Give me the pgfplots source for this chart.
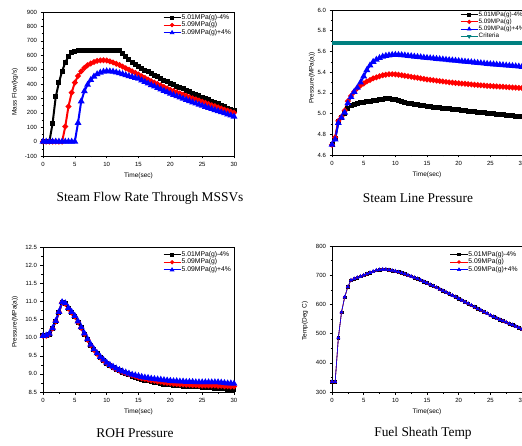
\documentclass[border=0pt]{standalone}
\usepackage{fontspec}
\setmainfont{Liberation Sans}
\newfontfamily\capfont{Liberation Serif}
\usepackage{pgfplots}
\pgfplotsset{compat=1.18}
\usepackage{pgfplotstable}

\definecolor{crit}{RGB}{0,128,128}

% mass flow (kg/s): t, -4%, nominal, +4%
\pgfplotstableread{
t blk red blu
0 0 0 0
0.5 0 0 0
1 0 0 0
1.5 125 0 0
2 310 0 0
2.5 410 0 0
3 488 0 0
3.5 550 105 0
4 590 244 0
4.5 616 340 0
5 628 410 0
5.5 632 455 130
6 634 488 280
6.5 635 512 350
7 635 530 395
7.5 635 543 428
8 635 553 452
8.5 635 560 468
9 635 564 479
9.5 635 565 486
10 635 563 489
10.5 635 557 488
11 635 550 486
11.5 635 541 481
12 633 532 475
12.5 612 521 469
13 590 510 462
13.5 569 499 455
14 551 488 449
14.5 535 477 443
15 521 466 437
15.5 508 454 426
16 496 442 415
16.5 484 431 404
17 472 420 393
17.5 460 410 383
18 449 400 373
18.5 438 390 363
19 427 380 353
19.5 416 370 343
20 406 360 333
20.5 396 352 324
21 386 343 315
21.5 376 335 307
22 366 326 298
22.5 356 318 290
23 347 309 281
23.5 337 301 273
24 328 293 265
24.5 318 285 257
25 309 277 249
25.5 300 269 242
26 290 261 234
26.5 281 253 227
27 271 246 219
27.5 262 238 212
28 252 230 204
28.5 242 222 197
29 232 215 189
29.5 223 207 182
30 213 200 174
}\flowtab

% steam line pressure (MPa(a))
\pgfplotstableread{
t blk red blu
0 4.70 4.70 4.70
0.5 4.76 4.77 4.75
1 4.92 4.93 4.91
1.5 4.96 4.97 4.96
2 5.00 5.03 5.01
2.5 5.05 5.12 5.10
3 5.075 5.17 5.16
3.5 5.09 5.21 5.21
4 5.10 5.245 5.25
4.5 5.105 5.27 5.30
5 5.11 5.29 5.36
5.5 5.115 5.31 5.42
6 5.12 5.325 5.465
6.5 5.125 5.34 5.50
7 5.13 5.35 5.52
7.5 5.135 5.36 5.537
8 5.14 5.37 5.55
8.5 5.142 5.375 5.558
9 5.143 5.38 5.563
9.5 5.14 5.38 5.567
10 5.135 5.378 5.568
10.5 5.128 5.375 5.567
11 5.12 5.37 5.565
11.5 5.11 5.365 5.562
12 5.10 5.36 5.558
12.5 5.095 5.355 5.555
13 5.09 5.35 5.551
13.5 5.085 5.345 5.548
14 5.08 5.34 5.545
14.5 5.075 5.335 5.541
15 5.07 5.33 5.538
15.5 5.066 5.326 5.535
16 5.062 5.322 5.532
16.5 5.058 5.318 5.529
17 5.055 5.314 5.526
17.5 5.051 5.310 5.523
18 5.048 5.306 5.520
18.5 5.045 5.302 5.517
19 5.041 5.299 5.514
19.5 5.038 5.296 5.511
20 5.035 5.293 5.508
20.5 5.031 5.290 5.505
21 5.028 5.287 5.502
21.5 5.024 5.284 5.499
22 5.021 5.281 5.496
22.5 5.018 5.278 5.493
23 5.014 5.276 5.490
23.5 5.011 5.273 5.487
24 5.007 5.271 5.484
24.5 5.004 5.268 5.481
25 5.000 5.266 5.478
25.5 4.997 5.264 5.476
26 4.994 5.262 5.473
26.5 4.991 5.260 5.470
27 4.988 5.258 5.468
27.5 4.985 5.256 5.465
28 4.982 5.254 5.462
28.5 4.979 5.252 5.460
29 4.976 5.250 5.457
29.5 4.973 5.248 5.455
30 4.970 5.246 5.452
}\slptab

% ROH pressure (MPa(a))
\pgfplotstableread{
t blk red blu
0 10.05 10.05 10.05
0.5 10.05 10.05 10.06
1 10.10 10.10 10.11
1.5 10.25 10.25 10.26
2 10.45 10.45 10.46
2.5 10.70 10.70 10.71
3 10.97 10.97 10.98
3.5 10.93 10.93 10.95
4 10.80 10.80 10.82
4.5 10.69 10.69 10.71
5 10.58 10.58 10.60
5.5 10.43 10.43 10.45
6 10.27 10.27 10.29
6.5 10.10 10.10 10.12
7 9.94 9.94 9.96
7.5 9.79 9.79 9.81
8 9.66 9.66 9.68
8.5 9.55 9.55 9.57
9 9.45 9.45 9.47
9.5 9.37 9.37 9.39
10 9.29 9.30 9.31
10.5 9.23 9.24 9.25
11 9.17 9.18 9.20
11.5 9.12 9.13 9.15
12 9.08 9.09 9.11
12.5 9.04 9.05 9.07
13 9.00 9.02 9.04
13.5 8.97 8.99 9.01
14 8.94 8.96 8.98
14.5 8.91 8.93 8.96
15 8.88 8.90 8.94
15.5 8.85 8.88 8.92
16 8.83 8.86 8.90
16.5 8.81 8.84 8.89
17 8.79 8.82 8.87
17.5 8.77 8.81 8.86
18 8.75 8.79 8.85
18.5 8.74 8.78 8.84
19 8.72 8.76 8.83
19.5 8.71 8.75 8.82
20 8.70 8.74 8.81
20.5 8.69 8.73 8.80
21 8.68 8.72 8.80
21.5 8.67 8.71 8.79
22 8.66 8.71 8.79
22.5 8.66 8.70 8.78
23 8.65 8.70 8.78
23.5 8.65 8.69 8.78
24 8.64 8.69 8.77
24.5 8.64 8.68 8.77
25 8.63 8.68 8.77
25.5 8.63 8.68 8.77
26 8.62 8.68 8.77
26.5 8.62 8.68 8.77
27 8.61 8.68 8.77
27.5 8.60 8.67 8.77
28 8.60 8.67 8.76
28.5 8.59 8.66 8.75
29 8.58 8.66 8.74
29.5 8.58 8.65 8.74
30 8.57 8.65 8.73
}\rohtab

% fuel sheath temperature (deg C), the three cases coincide
\pgfplotstableread{
t blk red blu
0 335 335 335
0.5 335 335 335
1 485 485 485
1.5 573 573 573
2 625 625 625
2.5 660 660 660
3 683 683 683
3.5 688 688 688
4 692 692 692
4.5 696 696 696
5 700 700 700
5.5 704 704 704
6 709 709 709
6.5 713 713 713
7 717 717 717
7.5 719 719 719
8 720 720 720
8.5 720 720 720
9 718 718 718
9.5 716 716 716
10 714 714 714
10.5 711 711 711
11 708 708 708
11.5 704 704 704
12 700 700 700
12.5 696 696 696
13 692 692 692
13.5 688 688 688
14 683 683 683
14.5 678 678 678
15 673 673 673
15.5 668 668 668
16 663 663 663
16.5 658 658 658
17 652 652 652
17.5 647 647 647
18 642 642 642
18.5 637 637 637
19 631 631 631
19.5 626 626 626
20 620 620 620
20.5 614 614 614
21 608 608 608
21.5 603 603 603
22 597 597 597
22.5 591 591 591
23 585 585 585
23.5 580 580 580
24 574 574 574
24.5 569 569 569
25 563 563 563
25.5 558 558 558
26 553 553 553
26.5 548 548 548
27 543 543 543
27.5 539 539 539
28 534 534 534
28.5 530 530 530
29 525 525 525
29.5 520 520 520
30 515 515 515
}\temptab

\pgfplotsset{
  panel/.style={
    scale only axis,
    xmin=0, xmax=30, xtick={0,5,...,30},
    minor x tick num=1, minor y tick num=1,
    tick align=outside, xtick pos=bottom, ytick pos=left,
    major tick length=2.5pt, minor tick length=1.5pt,
    tick style={black, line width=0.5pt},
    axis line style={line width=0.7pt},
    tick label style={font=\fontsize{6}{7}\selectfont},
    label style={font=\fontsize{6.5}{7.5}\selectfont},
    /pgf/number format/assume math mode=true,
    xlabel={Time(sec)},
    legend cell align=left,
    legend style={draw=none, fill=none, inner sep=0pt, font=\fontsize{6.8}{7.5}\selectfont,
      nodes={inner sep=0.6pt}},
  },
  sblk/.style={black, line width=2pt, mark=square*, mark size=1.5pt,
    legend image post style={line width=0.8pt}},
  sred/.style={red, line width=2pt, mark=*, mark size=1.7pt,
    legend image post style={line width=0.8pt}},
  sblu/.style={blue, line width=2pt, mark=triangle*, mark size=2pt,
    legend image post style={line width=0.8pt}},
}

\begin{document}
\begin{tikzpicture}

% Steam flow rate through MSSVs
\begin{axis}[panel, at={(43pt,289pt)}, anchor=south west, width=191pt, height=144pt,
    ymin=-100, ymax=900, ytick={-100,0,...,900},
    ylabel={Mass Flow(kg/s)},
    ylabel style={at={(axis description cs:-0.147,0.444)}, anchor=center},
    legend style={at={(axis description cs:0.628,0.99)}, anchor=north west}]
\addplot[sblk] table[x=t,y=blk] {\flowtab};
\addplot[sred] table[x=t,y=red] {\flowtab};
\addplot[sblu] table[x=t,y=blu] {\flowtab};
\legend{5.01MPa(g)-4\%,5.09MPa(g),5.09MPa(g)+4\%}
\end{axis}

% Steam line pressure
\begin{axis}[panel, at={(332pt,290pt)}, anchor=south west, width=190pt, height=145pt,
    ymin=4.6, ymax=6.0, ytick={4.6,4.8,...,6.0},
    yticklabel style={/pgf/number format/.cd, fixed, fixed zerofill, precision=1},
    ylabel={Pressure(MPa(a))},
    ylabel style={at={(axis description cs:-0.105,0.53)}, anchor=center},
    legend style={at={(axis description cs:0.674,0.995)}, anchor=north west,
      font=\fontsize{6.3}{7}\selectfont}]
\addplot[crit, line width=4pt, forget plot] coordinates {(0,5.68) (30,5.68)};
\addplot[sblk] table[x=t,y=blk] {\slptab};
\addplot[sred] table[x=t,y=red] {\slptab};
\addplot[sblu] table[x=t,y=blu] {\slptab};
\addlegendimage{crit, line width=0.8pt, mark=triangle*, mark size=1.8pt, mark options={rotate=180}}
\legend{5.01MPa(g)-4\%,5.09MPa(g),5.09MPa(g)+4\%,Criteria}
\end{axis}

% ROH pressure
\begin{axis}[panel, at={(43pt,53pt)}, anchor=south west, width=191pt, height=145pt,
    ymin=8.5, ymax=12.5, ytick={8.5,9.0,...,12.5},
    yticklabel style={/pgf/number format/.cd, fixed, fixed zerofill, precision=1},
    ylabel={Pressure(MPa(a))},
    ylabel style={at={(axis description cs:-0.147,0.483)}, anchor=center},
    legend style={at={(axis description cs:0.628,0.975)}, anchor=north west}]
\addplot[sblk] table[x=t,y=blk] {\rohtab};
\addplot[sred] table[x=t,y=red] {\rohtab};
\addplot[sblu] table[x=t,y=blu] {\rohtab};
\legend{5.01MPa(g)-4\%,5.09MPa(g),5.09MPa(g)+4\%}
\end{axis}

% Fuel sheath temperature
\begin{axis}[panel, at={(332pt,53pt)}, anchor=south west, width=190pt, height=146pt,
    ymin=300, ymax=800, ytick={300,400,...,800},
    ylabel={Temp(Deg C)},
    ylabel style={at={(axis description cs:-0.142,0.486)}, anchor=center},
    legend style={at={(axis description cs:0.621,0.97)}, anchor=north west}]
\addplot[black, line width=0.6pt, mark=square*, mark size=1.3pt] table[x=t,y=blk] {\temptab};
\addplot[red, line width=0.6pt, mark=*, mark size=1.4pt] table[x=t,y=red] {\temptab};
\addplot[blue, line width=0.6pt, mark=triangle*, mark size=1.8pt] table[x=t,y=blu] {\temptab};
\legend{5.01MPa(g)-4\%,5.09MPa(g),5.09MPa(g)+4\%}
\end{axis}

\node[font=\capfont\fontsize{13.4}{15}\selectfont] at (150pt,247pt) {Steam Flow Rate Through MSSVs};
\node[font=\capfont\fontsize{13.4}{15}\selectfont] at (418pt,247pt) {Steam Line Pressure};
\node[font=\capfont\fontsize{13.4}{15}\selectfont] at (135pt,12pt) {ROH Pressure};
\node[font=\capfont\fontsize{13.4}{15}\selectfont] at (423pt,12pt) {Fuel Sheath Temp};

\pgfresetboundingbox
\path[use as bounding box] (0pt,0pt) rectangle (522pt,445pt);
\end{tikzpicture}
\end{document}
